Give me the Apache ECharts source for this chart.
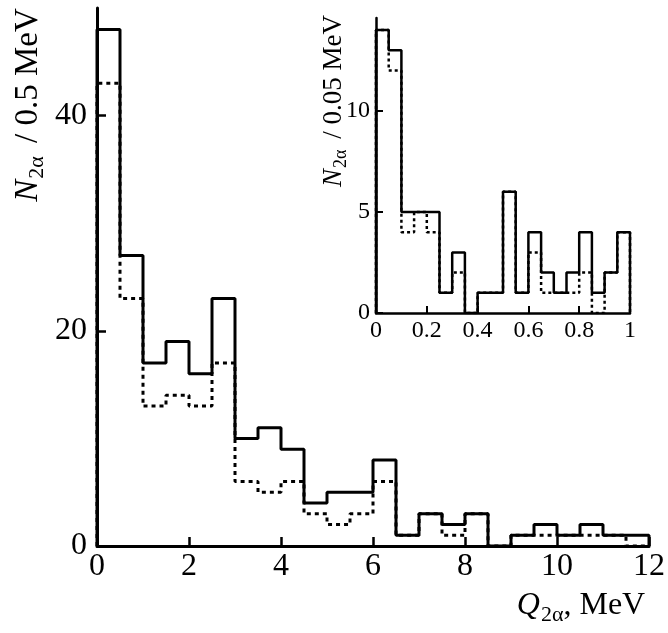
<!DOCTYPE html>
<html>
<head>
<meta charset="utf-8">
<script src="https://cdn.jsdelivr.net/npm/echarts@6/dist/echarts.min.js"></script>
<style>
  html, body { margin: 0; padding: 0; background: #fff; }
  #chart { width: 668px; height: 633px; }
</style>
</head>
<body>
<div id="chart"></div>
<script>
// Q(2α) spectrum, 0.5 MeV bins from 0 to 12 MeV
const mainBinWidth = 0.5;
const mainAll = [48, 27, 17, 19, 16, 23, 10, 11, 9, 4, 5, 5, 8, 1, 3, 2, 3, 0, 1, 2, 1, 2, 1, 1];
const mainSel = [43, 23, 13, 14, 13, 17, 6, 5, 6, 3, 2, 3, 6, 1, 3, 1, 3, 0, 1, 1, 1, 1, 1, 0];

// low-energy part, 0.05 MeV bins from 0 to 1 MeV
const insetBinWidth = 0.05;
const insetAll = [14, 13, 5, 5, 5, 1, 3, 0, 1, 1, 6, 1, 4, 2, 1, 2, 4, 1, 2, 4];
const insetSel = [14, 12, 4, 5, 4, 1, 2, 0, 1, 1, 6, 1, 3, 1, 1, 1, 2, 0, 2, 4];

// axis ranges and tick steps
const mainX = { max: 12, step: 2 };
const mainY = { max: 50, lastTick: 40, step: 20 };
const insetX = { max: 1, step: 0.2 };
const insetY = { max: 14.6, lastTick: 10, step: 5 };

const SERIF = '"Liberation Serif", "DejaVu Serif", serif';

// plot boxes
const mainBox = { left: 97, top: 8, width: 554, height: 538 };
const insetBox = { left: 376, top: 18, width: 254, height: 295 };

// histogram outline: start on the axis, one point per bin edge, close back to the axis
function histOutline(values, width) {
  const pts = [[0, 0]];
  values.forEach(function (v, i) { pts.push([+(i * width).toFixed(4), v]); });
  const end = +(values.length * width).toFixed(4);
  pts.push([end, values[values.length - 1]]);
  pts.push([end, 0]);
  return pts;
}

// box covering only 0..lastTick of the y range, so the tick axis stops at its last labelled tick
function tickBox(box, range) {
  const h = box.height * range.lastTick / range.max;
  return { left: box.left, top: box.top + box.height - h, width: box.width, height: h };
}

function fmt(v) { return String(+v.toFixed(2)); }

const chart = echarts.init(document.getElementById('chart'), null, { renderer: 'canvas' });

function xAxisOf(grid, range, lw, tl, fs, margin) {
  return {
    type: 'value', gridIndex: grid, min: 0, max: range.max, interval: range.step,
    splitLine: { show: false },
    axisLine: { show: true, onZero: false, lineStyle: { color: '#000', width: lw } },
    axisTick: { show: true, inside: true, length: tl, lineStyle: { color: '#000', width: lw - 0.5 } },
    axisLabel: { color: '#000', fontFamily: SERIF, fontSize: fs, margin: margin, formatter: fmt }
  };
}
function yLineAxis(grid, range, lw) {
  return {
    type: 'value', gridIndex: grid, min: 0, max: range.max,
    splitLine: { show: false },
    axisLine: { show: true, onZero: false, lineStyle: { color: '#000', width: lw } },
    axisTick: { show: false }, axisLabel: { show: false }
  };
}
function yTickAxis(grid, range, lw, tl, fs, margin) {
  return {
    type: 'value', gridIndex: grid, min: 0, max: range.lastTick, interval: range.step,
    splitLine: { show: false },
    axisLine: { show: false },
    axisTick: { show: true, inside: true, length: tl, lineStyle: { color: '#000', width: lw - 0.5 } },
    axisLabel: { color: '#000', fontFamily: SERIF, fontSize: fs, margin: margin, formatter: fmt }
  };
}
function hiddenX(grid, range) {
  return { type: 'value', gridIndex: grid, min: 0, max: range.max, show: false };
}

chart.setOption({
  animation: false,
  backgroundColor: '#fff',
  grid: [mainBox, insetBox, tickBox(mainBox, mainY), tickBox(insetBox, insetY)],
  xAxis: [
    xAxisOf(0, mainX, 3, 9, 32, 5),
    xAxisOf(1, insetX, 2.5, 7, 24, 6),
    hiddenX(2, mainX),
    hiddenX(3, insetX)
  ],
  yAxis: [
    yLineAxis(0, mainY, 3),
    yLineAxis(1, insetY, 2.5),
    yTickAxis(2, mainY, 3, 9, 32, 10),
    yTickAxis(3, insetY, 2.5, 7, 24, 6)
  ],
  series: [
    { type: 'line', step: 'end', xAxisIndex: 0, yAxisIndex: 0, data: histOutline(mainSel, mainBinWidth),
      symbol: 'none', lineStyle: { color: '#000', width: 3, type: [4, 4] }, z: 2 },
    { type: 'line', step: 'end', xAxisIndex: 0, yAxisIndex: 0, data: histOutline(mainAll, mainBinWidth),
      symbol: 'none', lineStyle: { color: '#000', width: 3 }, z: 3 },
    { type: 'line', step: 'end', xAxisIndex: 1, yAxisIndex: 1, data: histOutline(insetSel, insetBinWidth),
      symbol: 'none', lineStyle: { color: '#000', width: 2.5, type: [3, 3] }, z: 2 },
    { type: 'line', step: 'end', xAxisIndex: 1, yAxisIndex: 1, data: histOutline(insetAll, insetBinWidth),
      symbol: 'none', lineStyle: { color: '#000', width: 2.5 }, z: 3 }
  ],
  graphic: [
    { // main y title
      type: 'text', x: 28, y: 105, rotation: Math.PI / 2,
      style: {
        text: '{i|N}{s|2α}{r| / 0.5 MeV}', align: 'center', verticalAlign: 'middle', fill: '#000',
        rich: {
          i: { fontFamily: SERIF, fontStyle: 'italic', fontSize: 33, lineHeight: 40, verticalAlign: 'middle' },
          s: { fontFamily: SERIF, fontSize: 22, lineHeight: 40, verticalAlign: 'bottom', padding: [0, 5, 0, 1] },
          r: { fontFamily: SERIF, fontSize: 33, lineHeight: 40, verticalAlign: 'middle' }
        }
      }
    },
    { // inset y title
      type: 'text', x: 334, y: 101, rotation: Math.PI / 2,
      style: {
        text: '{i|N}{s|2α}{r| / 0.05 MeV}', align: 'center', verticalAlign: 'middle', fill: '#000',
        rich: {
          i: { fontFamily: SERIF, fontStyle: 'italic', fontSize: 27, lineHeight: 32, verticalAlign: 'middle' },
          s: { fontFamily: SERIF, fontSize: 18, lineHeight: 32, verticalAlign: 'bottom', padding: [0, 4, 0, 1] },
          r: { fontFamily: SERIF, fontSize: 27, lineHeight: 32, verticalAlign: 'middle' }
        }
      }
    },
    { // x title
      type: 'text', x: 581, y: 606,
      style: {
        text: '{i|Q}{s|2α}{r|, MeV}', align: 'center', verticalAlign: 'middle', fill: '#000',
        rich: {
          i: { fontFamily: SERIF, fontStyle: 'italic', fontSize: 32, lineHeight: 40, verticalAlign: 'middle' },
          s: { fontFamily: SERIF, fontSize: 22, lineHeight: 40, verticalAlign: 'bottom', padding: [0, 0, 0, 1] },
          r: { fontFamily: SERIF, fontSize: 32, lineHeight: 40, verticalAlign: 'middle' }
        }
      }
    }
  ]
});
</script>
</body>
</html>
